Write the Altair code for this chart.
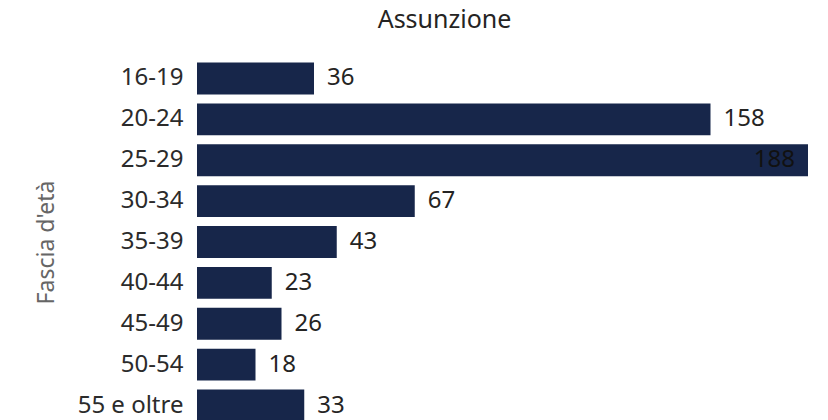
import altair as alt
import pandas as pd

categories = ["16-19", "20-24", "25-29", "30-34", "35-39", "40-44", "45-49", "50-54", "55 e oltre"]
values = [36, 158, 188, 67, 43, 23, 26, 18, 33]

df = pd.DataFrame({"fascia": categories, "valore": values})

FONT = "Segoe UI, Noto Sans, Open Sans, sans-serif"
BAR = "#17264A"

y_enc = alt.Y(
    "fascia:N",
    sort=categories,
    title="Fascia d'età",
    scale=alt.Scale(paddingInner=0.22, paddingOuter=0.11),
    axis=alt.Axis(
        ticks=False,
        domain=False,
        labelPadding=14,
        labelFontSize=24,
        labelColor="#2b2b2b",
        labelFont=FONT,
        titleFont=FONT,
        titleFontSize=23,
        titleFontWeight="normal",
        titleColor="#666666",
        titleX=-144,
        titleY=184,
        titleBaseline="alphabetic",
        titleAngle=270,
    ),
)
x_enc = alt.X("valore:Q", scale=alt.Scale(domain=[0, 188], nice=False), axis=None)

base = alt.Chart(df).encode(y=y_enc, x=x_enc)

bars = base.mark_bar(color=BAR)

outside = base.transform_filter("datum.valore < 170").mark_text(
    align="left", baseline="middle", dx=13, fontSize=24, font=FONT, color="#252423"
).encode(text="valore:Q")

inside = base.transform_filter("datum.valore >= 170").mark_text(
    align="right", baseline="middle", dx=-13, fontSize=24, font=FONT, color="#111111"
).encode(text="valore:Q")

chart = (
    alt.layer(bars, outside, inside)
    .properties(
        width=611,
        height=368,
        title=alt.TitleParams(
            "Assunzione",
            font=FONT,
            fontSize=25,
            fontWeight="normal",
            color="#252423",
            anchor="middle",
            frame="group",
            dx=-58,
            baseline="alphabetic",
            offset=5,
        ),
        autosize=alt.AutoSizeParams(type="none"),
        padding={"left": 189, "top": 50, "right": 12, "bottom": 4},
    )
    .configure_view(stroke=None)
)

chart.save("out.html", embed_options={"renderer": "svg", "actions": False})
